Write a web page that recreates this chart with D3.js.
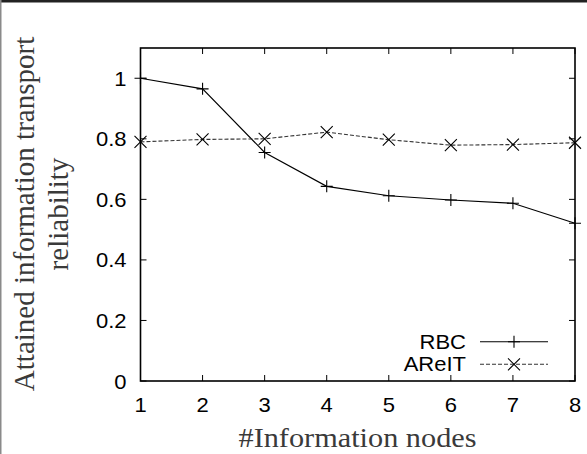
<!DOCTYPE html>
<html>
<head>
<meta charset="utf-8">
<script src="https://cdn.jsdelivr.net/npm/d3@7"></script>
<style>
  body { margin: 0; background: #fff; }
  .tick-label { font-family: "Liberation Sans", Arial, sans-serif; font-size: 20px; fill: #000; }
  .axis-title { font-family: "Liberation Serif", "Times New Roman", serif; fill: #3a3a3a; }
</style>
</head>
<body>
<svg id="chart"></svg>
<script>
// data
const nodes = [1, 2, 3, 4, 5, 6, 7, 8];
const rbc   = [1.0, 0.965, 0.755, 0.643, 0.612, 0.598, 0.587, 0.521];
const arelt = [0.790, 0.798, 0.800, 0.822, 0.797, 0.779, 0.781, 0.787];
const yTicks = [0, 0.2, 0.4, 0.6, 0.8, 1];
const seriesNames = ['RBC', 'AReIT'];

const W = 587, H = 454;
const margin = { top: 48, right: 12, bottom: 73, left: 140.5 };
const sx = 1.1; // glyphs in the picture are a little wide

const svg = d3.select('#chart').attr('width', W).attr('height', H);

// page frame (top dark rule, left grey rule)
svg.append('rect').attr('x', 0).attr('y', 0).attr('width', W).attr('height', 2.5).attr('fill', '#222');
svg.append('rect').attr('x', 0).attr('y', 0).attr('width', 1.5).attr('height', H).attr('fill', '#8a8a8a');

const x = d3.scaleLinear().domain([1, 8]).range([margin.left, W - margin.right]);
const y = d3.scaleLinear().domain([0, 1.1]).range([H - margin.bottom, margin.top]);

const x0 = x.range()[0], x1 = x.range()[1];
const y0 = y.range()[0], y1 = y.range()[1];
const tl = 6; // inward tick length

const g = svg.append('g');

// ticks on all four sides, pointing inward
g.selectAll('.xt-b').data(nodes).join('line')
  .attr('x1', d => x(d)).attr('x2', d => x(d))
  .attr('y1', y0).attr('y2', y0 - tl)
  .attr('stroke', '#000').attr('stroke-width', 1);
g.selectAll('.xt-t').data(nodes).join('line')
  .attr('x1', d => x(d)).attr('x2', d => x(d))
  .attr('y1', y1).attr('y2', y1 + tl)
  .attr('stroke', '#000').attr('stroke-width', 1);
g.selectAll('.yt-l').data(yTicks).join('line')
  .attr('x1', x0).attr('x2', x0 + tl)
  .attr('y1', d => y(d)).attr('y2', d => y(d))
  .attr('stroke', '#000').attr('stroke-width', 1);
g.selectAll('.yt-r').data(yTicks).join('line')
  .attr('x1', x1).attr('x2', x1 - tl)
  .attr('y1', d => y(d)).attr('y2', d => y(d))
  .attr('stroke', '#000').attr('stroke-width', 1);

// tick labels
g.selectAll('.xl').data(nodes).join('text')
  .attr('class', 'tick-label')
  .attr('transform', d => `translate(${x(d)},${y0 + 31}) scale(${sx},1)`)
  .attr('text-anchor', 'middle')
  .text(d => d);
g.selectAll('.yl').data(yTicks).join('text')
  .attr('class', 'tick-label')
  .attr('transform', d => `translate(${x0 - 14},${y(d) + 7.5}) scale(${sx},1)`)
  .attr('text-anchor', 'end')
  .text(d => d3.format('~g')(d));

// series
const lineGen = d3.line().x((d, i) => x(nodes[i])).y(d => y(d));

svg.append('path').datum(rbc)
  .attr('d', lineGen).attr('fill', 'none')
  .attr('stroke', '#000').attr('stroke-width', 1.1);
svg.append('path').datum(arelt)
  .attr('d', lineGen).attr('fill', 'none')
  .attr('stroke', '#333').attr('stroke-width', 1.1)
  .attr('stroke-dasharray', '4,2');

const ms = 6;
function plus(sel, cx, cy) {
  sel.append('path')
    .attr('d', `M${cx - ms},${cy}H${cx + ms}M${cx},${cy - ms}V${cy + ms}`)
    .attr('stroke', '#000').attr('stroke-width', 1.1).attr('fill', 'none');
}
function cross(sel, cx, cy) {
  sel.append('path')
    .attr('d', `M${cx - ms},${cy - ms}L${cx + ms},${cy + ms}M${cx - ms},${cy + ms}L${cx + ms},${cy - ms}`)
    .attr('stroke', '#000').attr('stroke-width', 1.1).attr('fill', 'none');
}
const marks = svg.append('g');
rbc.forEach((v, i) => plus(marks, x(nodes[i]), y(v)));
arelt.forEach((v, i) => cross(marks, x(nodes[i]), y(v)));

// frame
svg.append('rect')
  .attr('x', x0).attr('y', y1)
  .attr('width', x1 - x0).attr('height', y0 - y1)
  .attr('fill', 'none').attr('stroke', '#000').attr('stroke-width', 1.6);

// legend
const legX = 466, legLine0 = 480, legLine1 = 548, legY = [341.7, 364.3];
const leg = svg.append('g');
seriesNames.forEach((name, i) => {
  leg.append('text').attr('class', 'tick-label')
    .attr('transform', `translate(${legX},${legY[i] + 7}) scale(${sx},1)`)
    .attr('text-anchor', 'end').text(name);
  leg.append('line')
    .attr('x1', legLine0).attr('x2', legLine1)
    .attr('y1', legY[i]).attr('y2', legY[i])
    .attr('stroke', i === 0 ? '#000' : '#333').attr('stroke-width', 1.1)
    .attr('stroke-dasharray', i === 0 ? null : '4,2');
  const mx = (legLine0 + legLine1) / 2;
  if (i === 0) plus(leg, mx, legY[i]); else cross(leg, mx, legY[i]);
});

// axis titles
svg.append('text').attr('class', 'axis-title')
  .attr('x', 357.5).attr('y', 447.3)
  .attr('text-anchor', 'middle')
  .style('font-size', '27.5px')
  .attr('textLength', 238).attr('lengthAdjust', 'spacingAndGlyphs')
  .text('#Information nodes');

const yt = svg.append('text').attr('class', 'axis-title')
  .attr('transform', 'translate(34.3,214) rotate(-90)')
  .attr('text-anchor', 'middle')
  .style('font-size', '29px');
yt.append('tspan').attr('x', 0).attr('y', 0).text('Attained information transport');
yt.append('tspan').attr('x', 0).attr('y', 33.7).text('reliability');
</script>
</body>
</html>
